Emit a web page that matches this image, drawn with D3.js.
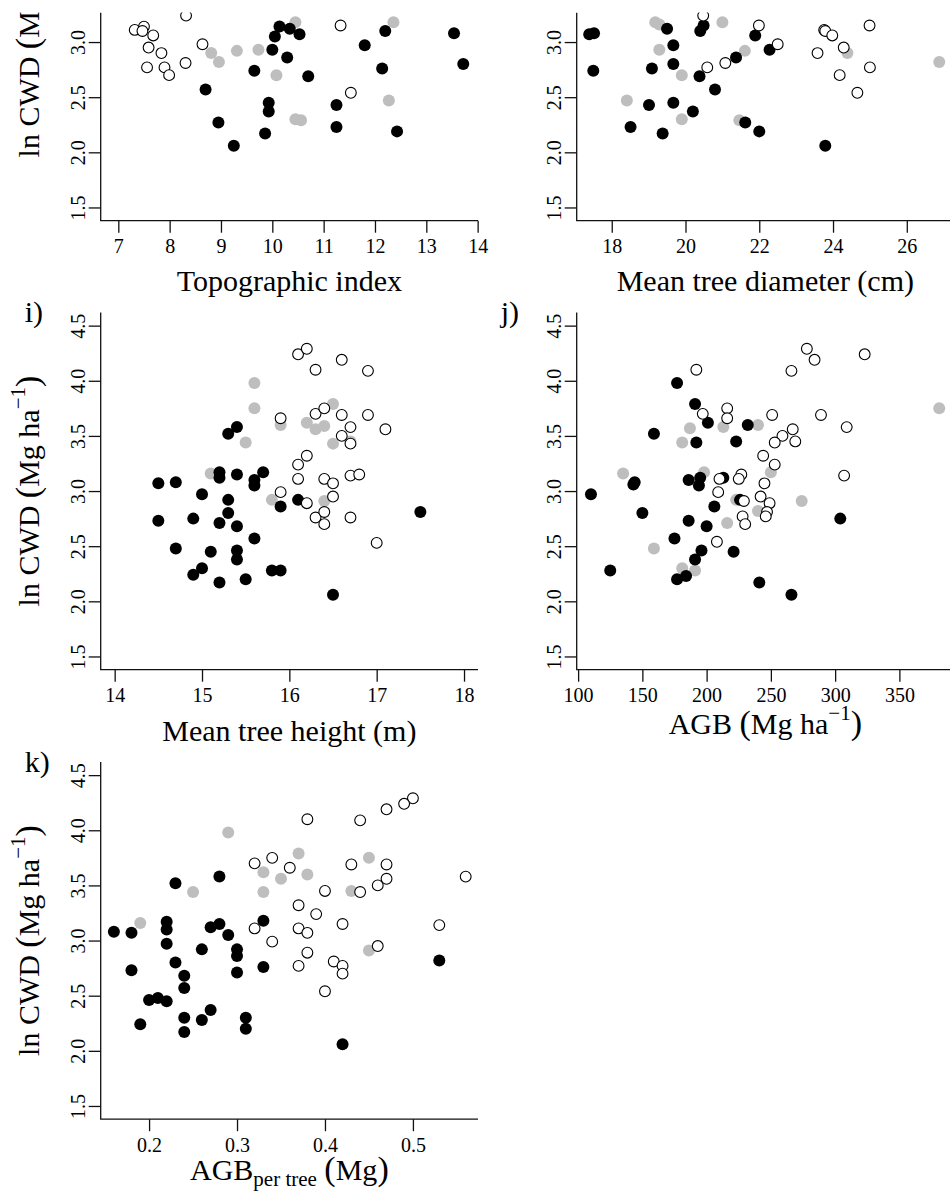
<!DOCTYPE html>
<html>
<head>
<meta charset="utf-8">
<script src="https://cdn.jsdelivr.net/npm/d3@7"></script>
<style>
  html, body { margin: 0; padding: 0; background: #fff; }
  svg { display: block; }
</style>
</head>
<body>
<svg id="chart" width="950" height="1196"></svg>
<script>
// ---------------- DATA ----------------
// y values: ln CWD (Mg ha^-1); three plot groups: black (filled), gray (filled), open (white)
const yTicks = [1.5, 2.0, 2.5, 3.0, 3.5, 4.0, 4.5];

// g) Topographic index
const topoTicks = [7, 8, 9, 10, 11, 12, 13, 14];
const topoBlack = [[8.70,2.57],[8.95,2.27],[9.25,2.06],[9.65,2.74],[9.86,2.17],[9.93,2.45],[9.93,2.37],[10.00,2.93],[10.05,3.05],[10.14,3.14],[10.34,3.12],[10.29,2.86],[10.53,3.07],[10.70,2.69],[11.25,2.43],[11.25,2.23],[11.80,2.97],[12.14,2.76],[12.20,3.10],[12.43,2.19],[13.54,3.08],[13.72,2.80]];
const topoGray = [[8.81,2.90],[8.96,2.82],[9.31,2.92],[9.73,2.93],[10.08,2.70],[10.45,3.18],[10.45,2.30],[10.56,2.29],[12.27,2.47],[12.36,3.18]];
const topoOpen = [[7.32,3.11],[7.50,3.14],[7.47,3.10],[7.68,3.06],[7.59,2.95],[7.56,2.77],[7.84,2.90],[7.90,2.77],[7.99,2.70],[8.31,2.81],[8.32,3.24],[8.64,2.98],[11.33,3.15],[11.53,2.54]];

// h) Mean tree diameter (cm)
const diamTicks = [18, 20, 22, 24, 26];
const diamBlack = [[17.39,3.07],[17.52,3.08],[17.50,2.74],[18.51,2.23],[19.01,2.43],[19.09,2.76],[19.38,2.17],[19.50,3.12],[19.67,2.97],[19.67,2.80],[19.67,2.45],[20.20,2.37],[20.38,2.69],[20.40,3.10],[20.49,3.15],[20.80,2.57],[21.37,2.86],[21.62,2.27],[21.89,3.06],[22.00,2.19],[22.28,2.93],[23.79,2.06]];
const diamGray = [[18.41,2.47],[19.18,3.18],[19.29,3.16],[19.29,2.93],[19.90,2.70],[19.90,2.30],[21.00,3.18],[21.46,2.29],[21.61,2.92],[24.39,2.90],[26.88,2.82]];
const diamOpen = [[20.48,3.24],[20.59,2.77],[21.08,2.81],[21.99,3.15],[22.50,2.98],[23.58,2.90],[23.76,3.11],[23.79,3.10],[23.98,3.06],[24.29,2.95],[24.18,2.70],[24.66,2.54],[24.99,3.15],[25.00,2.77]];

// i) Mean tree height (m)
const heightTicks = [14, 15, 16, 17, 18];
const heightBlack = [[14.5,3.07],[14.5,2.73],[14.7,3.08],[14.7,2.48],[14.9,2.75],[14.9,2.24],[15.0,2.97],[15.0,2.30],[15.1,2.45],[15.2,3.17],[15.2,3.12],[15.2,2.71],[15.2,2.17],[15.3,3.52],[15.3,2.92],[15.3,2.80],[15.4,3.58],[15.4,3.15],[15.4,2.68],[15.4,2.46],[15.4,2.38],[15.5,2.20],[15.6,3.10],[15.6,3.05],[15.6,2.57],[15.7,3.17],[15.8,2.28],[15.9,2.28],[15.9,2.86],[16.1,2.92],[16.5,2.06],[17.5,2.81]];
const heightGray = [[15.1,3.16],[15.5,3.44],[15.6,3.98],[15.6,3.75],[15.8,2.92],[15.9,3.60],[16.2,3.62],[16.3,3.56],[16.4,3.59],[16.5,3.79],[16.5,3.43],[16.4,2.91],[16.7,3.45]];
const heightOpen = [[16.1,4.24],[16.2,4.29],[16.3,4.10],[16.6,4.19],[16.9,4.09],[15.9,3.66],[16.3,3.70],[16.4,3.75],[16.6,3.69],[16.9,3.69],[16.7,3.58],[17.1,3.56],[16.6,3.50],[16.7,3.43],[16.2,3.32],[16.1,3.24],[16.1,3.11],[16.4,3.11],[16.5,3.07],[16.7,3.14],[16.8,3.15],[15.9,2.99],[16.2,2.89],[16.5,2.95],[16.3,2.76],[16.4,2.81],[16.4,2.70],[16.7,2.76],[17.0,2.53]];

// j) AGB (Mg ha^-1)
const agbTicks = [100, 150, 200, 250, 300, 350];
const agbBlack = [[110,2.97],[125,2.28],[143,3.06],[144,3.08],[150,2.80],[159,3.52],[175,2.57],[177,3.98],[177,2.20],[184,2.23],[186,2.73],[186,3.10],[191,3.79],[192,3.44],[191,2.38],[194,3.05],[195,3.12],[196,2.46],[200,2.68],[201,3.62],[206,2.86],[213,3.12],[221,2.45],[223,3.45],[226,2.92],[232,3.60],[241,2.17],[266,2.06],[304,2.75]];
const agbGray = [[135,3.16],[159,2.48],[181,3.44],[187,3.57],[181,2.30],[191,2.28],[198,3.17],[213,3.58],[216,2.71],[223,2.92],[240,3.60],[240,2.82],[250,3.17],[274,2.91],[381,3.75]];
const agbOpen = [[192,4.10],[278,4.29],[284,4.19],[323,4.24],[266,4.09],[197,3.70],[216,3.75],[216,3.66],[251,3.69],[289,3.69],[309,3.58],[267,3.56],[259,3.50],[253,3.44],[269,3.45],[244,3.32],[253,3.24],[227,3.15],[225,3.11],[210,3.11],[245,3.07],[307,3.14],[209,2.99],[242,2.95],[249,2.89],[229,2.91],[247,2.81],[246,2.77],[228,2.77],[230,2.70],[208,2.54]];

// k) AGB per tree (Mg)
const agbTreeTicks = [0.2, 0.3, 0.4, 0.5];
const agbTreeBlack = [[0.16,3.08],[0.18,3.07],[0.18,2.73],[0.19,2.24],[0.20,2.46],[0.21,2.48],[0.22,2.45],[0.22,3.17],[0.22,3.10],[0.22,2.97],[0.23,3.52],[0.23,2.80],[0.24,2.68],[0.24,2.57],[0.24,2.30],[0.24,2.17],[0.26,2.92],[0.26,2.28],[0.27,3.12],[0.27,2.37],[0.28,3.58],[0.28,3.15],[0.29,3.05],[0.30,2.92],[0.30,2.86],[0.30,2.71],[0.31,2.30],[0.31,2.20],[0.33,3.18],[0.33,2.76],[0.42,2.06],[0.53,2.82]];
const agbTreeGray = [[0.19,3.16],[0.25,3.44],[0.29,3.98],[0.33,3.62],[0.33,3.44],[0.35,3.56],[0.37,3.79],[0.38,3.60],[0.43,3.45],[0.45,3.75],[0.45,2.91]];
const agbTreeOpen = [[0.50,4.29],[0.49,4.24],[0.47,4.19],[0.38,4.10],[0.44,4.09],[0.32,3.70],[0.34,3.75],[0.36,3.66],[0.43,3.69],[0.47,3.69],[0.47,3.56],[0.46,3.50],[0.56,3.58],[0.40,3.45],[0.44,3.44],[0.37,3.32],[0.39,3.24],[0.32,3.11],[0.37,3.11],[0.38,3.07],[0.42,3.15],[0.53,3.14],[0.34,2.99],[0.38,2.89],[0.46,2.95],[0.37,2.77],[0.41,2.81],[0.42,2.77],[0.42,2.70],[0.40,2.54]];

// ---------------- LAYOUT / STYLE ----------------
const FONT = '"Liberation Serif","Times New Roman",Times,serif';
const PLOT_W = 377.3, PLOT_H = 357.3;
const COL_X = [100.7, 576.7];
const ROW_BOTTOM = [220.7, 669.7, 1119.2];
const Y_DOMAIN = [1.38, 4.62];
const TOP_CUT = 12.5;            // the reference image is cropped above this line
const GRAY = '#bebebe';
const INK = '#111';

const svg = d3.select('#chart');
svg.append('rect').attr('width', 950).attr('height', 1196).attr('fill', '#fff');

function mathText(sel, parts) {
  parts.forEach(p => {
    sel.append('tspan')
      .attr('font-size', p.size)
      .attr('dy', p.dy || 0)
      .text(p.t);
  });
}

const Y_TITLE = [
  {t: 'ln CWD ', size: 30},
  {t: '(', size: 34},
  {t: 'Mg ha', size: 30},
  {t: '\u22121', size: 21, dy: -14},
  {t: ')', size: 34, dy: 14}
];

const panels = [
  {label: 'g)', col: 0, row: 0, xDomain: [6.657, 14.007], ticks: topoTicks, fmt: d3.format('d'),
   black: topoBlack, gray: topoGray, open: topoOpen, yTitle: true,
   xTitle: [{t: 'Topographic index', size: 30}], xTitleOff: 70},
  {label: 'h)', col: 1, row: 0, xDomain: [17.05, 27.28], ticks: diamTicks, fmt: d3.format('d'),
   black: diamBlack, gray: diamGray, open: diamOpen, yTitle: false,
   xTitle: [{t: 'Mean tree diameter (cm)', size: 30}], xTitleOff: 70},
  {label: 'i)', col: 0, row: 1, xDomain: [13.84, 18.16], ticks: heightTicks, fmt: d3.format('d'),
   black: heightBlack, gray: heightGray, open: heightOpen, yTitle: true,
   xTitle: [{t: 'Mean tree height (m)', size: 30}], xTitleOff: 71},
  {label: 'j)', col: 1, row: 1, xDomain: [98.9, 392.5], ticks: agbTicks, fmt: d3.format('d'),
   black: agbBlack, gray: agbGray, open: agbOpen, yTitle: false,
   xTitle: [{t: 'AGB ', size: 30}, {t: '(', size: 34}, {t: 'Mg ha', size: 30},
            {t: '\u22121', size: 21, dy: -14}, {t: ')', size: 34, dy: 14}], xTitleOff: 64},
  {label: 'k)', col: 0, row: 2, xDomain: [0.145, 0.574], ticks: agbTreeTicks, fmt: d3.format('.1f'),
   black: agbTreeBlack, gray: agbTreeGray, open: agbTreeOpen, yTitle: true,
   xTitle: [{t: 'AGB', size: 30}, {t: 'per tree', size: 21, dy: 6}, {t: ' ', size: 30, dy: -6},
            {t: '(', size: 34}, {t: 'Mg', size: 30}, {t: ')', size: 34}], xTitleOff: 61}
];

panels.forEach(p => {
  const left = COL_X[p.col];
  const top = ROW_BOTTOM[p.row] - PLOT_H;
  const g = svg.append('g').attr('transform', `translate(${left},${top})`);
  const x = d3.scaleLinear().domain(p.xDomain).range([0, PLOT_W]);
  const y = d3.scaleLinear().domain(Y_DOMAIN).range([PLOT_H, 0]);

  // points: gray, black, then open (white-filled) on top
  g.append('g').selectAll('circle').data(p.gray).join('circle')
    .attr('cx', d => x(d[0])).attr('cy', d => y(d[1])).attr('r', 6).attr('fill', GRAY);
  g.append('g').selectAll('circle').data(p.black).join('circle')
    .attr('cx', d => x(d[0])).attr('cy', d => y(d[1])).attr('r', 6).attr('fill', '#000');
  g.append('g').selectAll('circle').data(p.open).join('circle')
    .attr('cx', d => x(d[0])).attr('cy', d => y(d[1])).attr('r', 5.4)
    .attr('fill', '#fff').attr('stroke', '#000').attr('stroke-width', 1.1);

  // L-shaped box
  g.append('path')
    .attr('d', `M0,${Math.max(0, TOP_CUT - top)}V${PLOT_H}H${PLOT_W}`)
    .attr('fill', 'none').attr('stroke', INK).attr('stroke-width', 1.3);

  // x axis
  const xa = g.append('g').attr('transform', `translate(0,${PLOT_H})`)
    .call(d3.axisBottom(x).tickValues(p.ticks).tickFormat(p.fmt).tickSize(12).tickSizeOuter(0));
  xa.select('.domain').remove();
  xa.selectAll('line').attr('stroke', INK).attr('stroke-width', 1.3);
  xa.selectAll('text').attr('y', 32.5).attr('dy', 0)
    .attr('font-family', FONT).attr('font-size', 20).attr('fill', '#000');
  xa.attr('font-family', null).attr('font-size', null);

  // y axis with rotated labels; ticks outside the cropped picture are not drawn
  const visibleY = yTicks.filter(v => top + y(v) - 14 > TOP_CUT);
  const ya = g.append('g')
    .call(d3.axisLeft(y).tickValues(visibleY).tickFormat(d3.format('.1f')).tickSize(12).tickSizeOuter(0));
  ya.select('.domain').remove();
  ya.selectAll('line').attr('stroke', INK).attr('stroke-width', 1.3);
  ya.selectAll('text')
    .attr('transform', 'rotate(-90)')
    .attr('x', 0).attr('y', -15.5).attr('dy', 0)
    .attr('text-anchor', 'middle')
    .attr('font-family', FONT).attr('font-size', 20).attr('fill', '#000');
  ya.attr('font-family', null).attr('font-size', null);

  // x title
  const xt = g.append('text')
    .attr('x', PLOT_W / 2).attr('y', PLOT_H + p.xTitleOff)
    .attr('text-anchor', 'middle').attr('font-family', FONT).attr('fill', '#000');
  mathText(xt, p.xTitle);

  // y title
  if (p.yTitle) {
    const yt = g.append('text')
      .attr('transform', `translate(-62,${PLOT_H / 2}) rotate(-90)`)
      .attr('text-anchor', 'middle').attr('font-family', FONT).attr('fill', '#000');
    mathText(yt, Y_TITLE);
  }

  // panel label (only where it falls inside the cropped picture)
  if (top + 10 > TOP_CUT) {
    g.append('text')
      .attr('x', -76).attr('y', 10)
      .attr('font-family', FONT).attr('font-size', 30).attr('fill', '#000')
      .text(p.label);
  }
});

// the reference is cut off at the top edge
svg.append('rect').attr('x', 0).attr('y', 0).attr('width', 950).attr('height', TOP_CUT).attr('fill', '#fff');
</script>
</body>
</html>
